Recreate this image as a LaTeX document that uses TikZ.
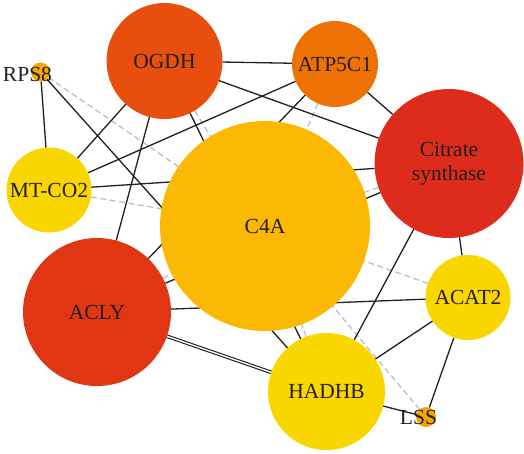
\documentclass[tikz,border=0pt]{standalone}
\usepackage{fontspec}
\setmainfont{Liberation Serif}
\usetikzlibrary{backgrounds}
\definecolor{cOGDH}{RGB}{232,78,14}
\definecolor{cATP}{RGB}{238,114,3}
\definecolor{cCS}{RGB}{221,44,28}
\definecolor{cACLY}{RGB}{225,54,20}
\definecolor{cC4A}{RGB}{251,185,3}
\definecolor{cYel}{RGB}{249,214,0}
\definecolor{cSmall}{RGB}{245,166,0}
\definecolor{cText}{RGB}{35,31,32}
\definecolor{cDash}{RGB}{190,190,190}
\begin{document}
\begin{tikzpicture}[x=1pt,y=-1pt,
  gene/.style={circle, inner sep=0pt, outer sep=0pt, draw=none,
    font=\fontsize{21.5}{24}\selectfont, text=cText, align=center},
  glabel/.style={inner sep=0pt, font=\fontsize{21.5}{24}\selectfont, text=cText},
  edge/.style={line width=1.3pt, draw=black!88},
  pred/.style={line width=1.3pt, draw=cDash, dash pattern=on 6pt off 3.5pt},
  dbl/.style={line width=1.1pt, draw=black!88, double=white, double distance=1.4pt}]
\useasboundingbox (0,0) rectangle (524,453);
% nodes
\node[gene, fill=cC4A, minimum size=210pt] (c4a) at (265,226) {C4A};
\node[gene, fill=cOGDH, minimum size=116pt] (ogdh) at (164.5,61) {OGDH};
\node[gene, fill=cATP, minimum size=86pt] (atp) at (335,64) {ATP5C1};
\node[gene, fill=cCS, minimum size=149pt] (cs) at (449,163.5) {Citrate\\synthase};
\node[gene, fill=cYel, minimum size=85pt] (mtco2) at (49,190) {MT-CO2};
\node[gene, fill=cACLY, minimum size=148pt] (acly) at (97,312) {ACLY};
\node[gene, fill=cYel, minimum size=85pt] (acat2) at (468,297.5) {ACAT2};
\node[gene, fill=cYel, minimum size=117pt] (hadhb) at (326.5,391.5) {HADHB};
\node[gene, fill=cSmall, minimum size=19pt] (rps8) at (40.5,72) {};
\node[gene, fill=cSmall, minimum size=20pt] (lss) at (426,417) {};
\node[glabel] (rps8lbl) at (27.5,74) {RPS8};
\node[glabel] (lsslbl) at (418.5,417) {LSS};
% edges
\begin{scope}[on background layer]
  \draw[pred] (rps8) -- (c4a);
  \draw[pred] (mtco2) -- (c4a);
  \draw[pred] (ogdh) -- (c4a);
  \draw[pred] (atp) -- (c4a);
  \draw[pred] (cs) -- (c4a);
  \draw[pred] (acly) -- (c4a);
  \draw[pred] (acat2) -- (c4a);
  \draw[pred] (hadhb) -- (c4a);
  \draw[pred] (lss) -- (c4a);
  \draw[edge] (rps8) -- (mtco2);
  \draw[edge] (rps8) -- (hadhb);
  \draw[edge] (mtco2) -- (ogdh);
  \draw[edge] (mtco2) -- (atp);
  \draw[edge] (mtco2) -- (cs);
  \draw[edge] (ogdh) -- (atp);
  \draw[edge] (ogdh) -- (cs);
  \draw[edge] (ogdh) -- (acly);
  \draw[edge] (ogdh) -- (hadhb);
  \draw[edge] (atp) -- (acly);
  \draw[edge] (atp) -- (cs);
  \draw[edge] (cs) -- (acly);
  \draw[edge] (cs) -- (hadhb);
  \draw[edge] (cs) -- (acat2);
  \draw[edge] (acly) -- (acat2);
  \draw[dbl] (acly) -- (hadhb);
  \draw[edge] (acat2) -- (hadhb);
  \draw[edge] (acat2) -- (lss);
  \draw[edge] (hadhb) -- (lss);
\end{scope}
\end{tikzpicture}
\end{document}
